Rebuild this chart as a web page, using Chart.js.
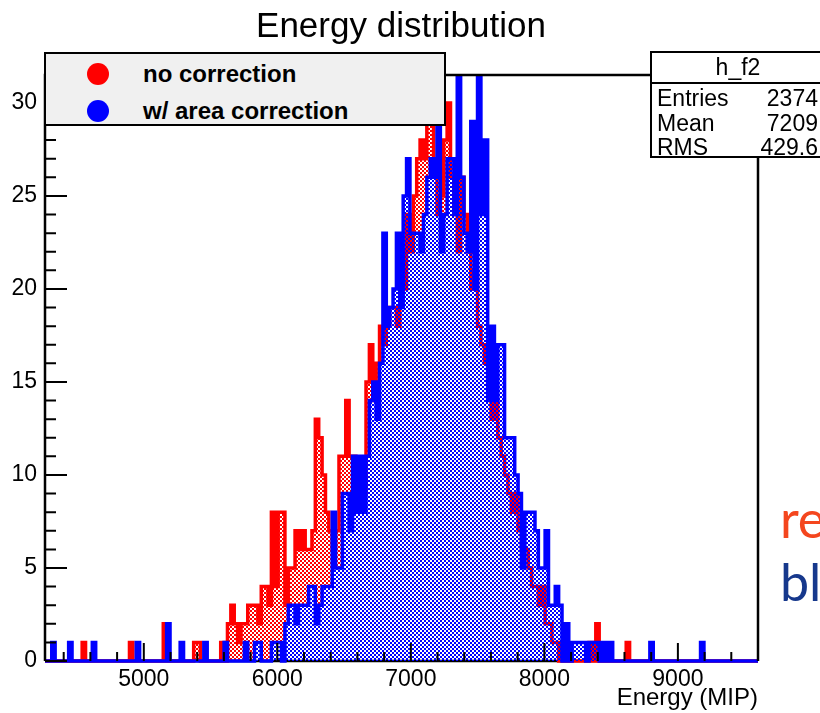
<!DOCTYPE html>
<html>
<head>
<meta charset="utf-8">
<script src="https://cdn.jsdelivr.net/npm/chart.js@4.4.1/dist/chart.umd.min.js"></script>
<style>
  body { margin: 0; background: #fff; }
  #wrap { position: relative; width: 820px; height: 713px; overflow: hidden; font-family: "Liberation Sans", Arial, sans-serif; }
  #wrap canvas { position: absolute; left: 0; top: 0; }
  .abs { position: absolute; white-space: nowrap; }
  #title { left: 0; width: 802px; top: 5px; text-align: center; font-size: 35px; }
  #legend { left: 44px; top: 52px; width: 398px; height: 70px; border: 2.5px solid #000; background: #f0f0f0; }
  .dot { position: absolute; width: 22px; height: 22px; border-radius: 50%; }
  .ltxt { position: absolute; font-weight: bold; font-size: 24px; line-height: 28px; }
  #stats { left: 650px; top: 51px; width: 172px; height: 103px; border: 2px solid #000; background: #fff; font-size: 23px; }
  #stats .hdr { position: absolute; left: 0; right: 0; top: 0; height: 29px; border-bottom: 2px solid #000; text-align: center; line-height: 29px; }
  #stats .row { position: absolute; left: 5px; right: 6px; height: 26px; line-height: 26px; }
  #stats .row span { position: absolute; right: 0; }
  .side { font-family: Lato, "Open Sans", sans-serif; font-size: 52px; line-height: 52px; }
</style>
</head>
<body>
<div id="wrap">
  <canvas id="chart" width="820" height="713"></canvas>
  <div id="title" class="abs">Energy distribution</div>
  <div id="legend" class="abs">
    <div class="dot" style="left:41px; top:9px; background:#ff0000"></div>
    <div class="ltxt" style="left:97px; top:6px">no correction</div>
    <div class="dot" style="left:41px; top:46px; background:#0000ff"></div>
    <div class="ltxt" style="left:97px; top:43px">w/ area correction</div>
  </div>
  <div id="stats" class="abs">
    <div class="hdr">h_f2</div>
    <div class="row" style="top:32px">Entries<span>2374</span></div>
    <div class="row" style="top:57px">Mean<span>7209</span></div>
    <div class="row" style="top:81px">RMS<span>429.6</span></div>
  </div>
  <div class="abs side" style="left:780px; top:492px; color:#f4461e">re</div>
  <div class="abs side" style="left:780px; top:555px; color:#16388c">bl</div>
</div>
<script>
// histogram binning
const xMin = 4260;
const xMax = 9600;
const binCount = 211;

// tick labels
const xTicks = [5000, 6000, 7000, 8000, 9000];
const yTicks = [0, 5, 10, 15, 20, 25, 30];
const yMax = 31.5;

// bin contents, "no correction"
const noCorrection = [
  0,0,0,0,0,0,0,0,0,0,
  0,1,0,0,0,0,0,0,0,0,
  0,0,0,0,0,1,0,0,0,0,
  0,0,0,0,0,2,0,0,0,0,
  0,0,0,0,1,1,0,0,0,0,
  0,0,1,0,2,3,2,1,2,2,
  3,3,3,2,4,4,3,8,4,8,
  8,3,5,5,7,6,7,6,6,7,
  13,12,10,8,7,6,7,11,11,14,
  11,11,10,9,9,15,17,14,16,18,
  17,18,19,19,18,22,20,24,22,25,
  27,28,27,29,29,26,24,25,28,30,
  26,24,22,26,24,22,20,21,18,17,
  16,15,13,14,12,11,10,9,8,9,
  7,6,6,5,4,4,3,4,2,2,
  1,1,0,1,0,0,0,0,0,0,
  0,1,0,2,0,0,0,0,0,0,
  0,0,1,0,0,0,0,0,0,0,
  0,0,0,0,0,0,0,0,0,0,
  0,0,0,0,0,0,0,0,0,0,
  0,0,0,0,0,0,0,0,0,0,
  0
];

// bin contents, "w/ area correction"
const areaCorrection = [
  0,0,1,0,0,0,0,1,0,0,
  0,0,0,0,1,0,0,0,0,0,
  0,0,0,0,0,0,0,1,0,0,
  0,0,0,0,0,0,2,0,0,0,
  1,0,0,0,0,0,0,1,0,0,
  0,0,0,1,0,0,0,0,0,1,
  0,0,1,1,0,0,0,1,1,1,
  0,2,3,3,2,3,3,3,4,4,
  2,3,4,4,4,8,5,5,9,9,
  7,11,8,11,8,11,14,15,13,16,
  23,18,19,20,23,19,25,27,23,23,
  23,22,24,26,27,26,29,22,24,27,
  27,24,33,26,23,22,29,20,33,24,
  28,14,18,14,17,17,12,12,12,10,
  9,5,8,8,8,7,5,5,7,3,
  3,4,3,0,2,0,1,1,1,1,
  0,1,1,1,0,1,0,1,0,0,
  0,0,0,0,0,0,0,0,0,1,
  0,0,0,0,0,0,0,0,0,0,
  0,0,0,0,1,0,0,0,0,0,
  0,0,0,0,0,0,0,0,0,0,
  0
];

const binWidth = (xMax - xMin) / binCount;

// step points: one per low edge, plus the last upper edge
function toSteps(values) {
    const pts = [];
    for (let i = 0; i <= binCount; i++) {
        pts.push({ x: xMin + i * binWidth, y: values[Math.min(i, binCount - 1)] });
    }
    return pts;
}

// ROOT-like checker fill
function checker(color) {
    const c = document.createElement("canvas");
    c.width = 4; c.height = 4;
    const g = c.getContext("2d");
    g.fillStyle = color;
    g.fillRect(0, 0, 2, 2);
    g.fillRect(2, 2, 2, 2);
    return g.createPattern(c, "repeat");
}

// frame and inward ticks, like a ROOT pad
const rootFrame = {
    id: "rootFrame",
    beforeDatasetsDraw(chart) {
        const { ctx, chartArea: a } = chart;
        ctx.save();
        ctx.strokeStyle = "#000";
        ctx.lineWidth = 2.5;
        ctx.beginPath();
        ctx.moveTo(a.left, a.bottom);
        ctx.lineTo(a.right, a.bottom);
        ctx.stroke();
        ctx.restore();
    },
    afterDatasetsDraw(chart) {
        const { ctx, chartArea: a, scales: { x, y } } = chart;
        ctx.save();
        ctx.strokeStyle = "#000";
        ctx.lineWidth = 2.5;
        ctx.beginPath();
        ctx.moveTo(a.left, a.bottom);
        ctx.lineTo(a.left, a.top);
        ctx.lineTo(a.right, a.top);
        ctx.lineTo(a.right, a.bottom);
        ctx.stroke();

        ctx.lineWidth = 2;
        ctx.beginPath();
        for (let v = Math.ceil(x.min / 200) * 200; v <= x.max; v += 200) {
            const px = x.getPixelForValue(v);
            const len = v % 1000 === 0 ? 18 : 9;
            ctx.moveTo(px, a.bottom);
            ctx.lineTo(px, a.bottom - len);
        }
        for (let v = 0; v <= y.max; v += 1) {
            const py = y.getPixelForValue(v);
            const len = v % 5 === 0 ? 22 : 11;
            ctx.moveTo(a.left, py);
            ctx.lineTo(a.left + len, py);
        }
        ctx.stroke();
        ctx.restore();
    }
};

const tickFont = { family: "Liberation Sans", size: 23 };

function histDataset(label, values, color) {
    return {
        label: label,
        data: toSteps(values),
        borderColor: color,
        backgroundColor: checker(color),
        borderWidth: 3.5,
        stepped: "before",
        fill: "origin",
        pointRadius: 0,
        borderJoinStyle: "miter",
        clip: { left: 0, top: 0, right: 0, bottom: 3 }
    };
}

new Chart(document.getElementById("chart"), {
    type: "line",
    data: {
        // first dataset is drawn last, so blue sits over red
        datasets: [
            histDataset("w/ area correction", areaCorrection, "#0000ff"),
            histDataset("no correction", noCorrection, "#ff0000")
        ]
    },
    options: {
        responsive: false,
        animation: false,
        events: [],
        layout: { padding: { top: 75, right: 62, left: 0, bottom: 0 } },
        plugins: {
            legend: { display: false },
            tooltip: { enabled: false },
            title: { display: false }
        },
        scales: {
            x: {
                type: "linear",
                min: xMin,
                max: xMax,
                grid: { display: false, drawTicks: false },
                border: { display: false },
                afterBuildTicks: s => { s.ticks = xTicks.map(v => ({ value: v })); },
                ticks: {
                    font: tickFont,
                    color: "#000",
                    padding: 5,
                    maxRotation: 0,
                    autoSkip: false,
                    callback: v => String(v)
                },
                title: {
                    display: true,
                    text: "Energy (MIP)",
                    align: "end",
                    color: "#000",
                    font: { family: "Liberation Sans", size: 24 },
                    padding: { top: 0, bottom: 0 }
                },
                afterFit: s => { s.height = 52; }
            },
            y: {
                min: 0,
                max: yMax,
                grid: { display: false, drawTicks: false },
                border: { display: false },
                afterBuildTicks: s => { s.ticks = yTicks.map(v => ({ value: v })); },
                ticks: {
                    font: tickFont,
                    color: "#000",
                    padding: 8,
                    callback: v => String(v)
                },
                afterFit: s => { s.width = 45; }
            }
        }
    },
    plugins: [rootFrame]
});
</script>
</body>
</html>
